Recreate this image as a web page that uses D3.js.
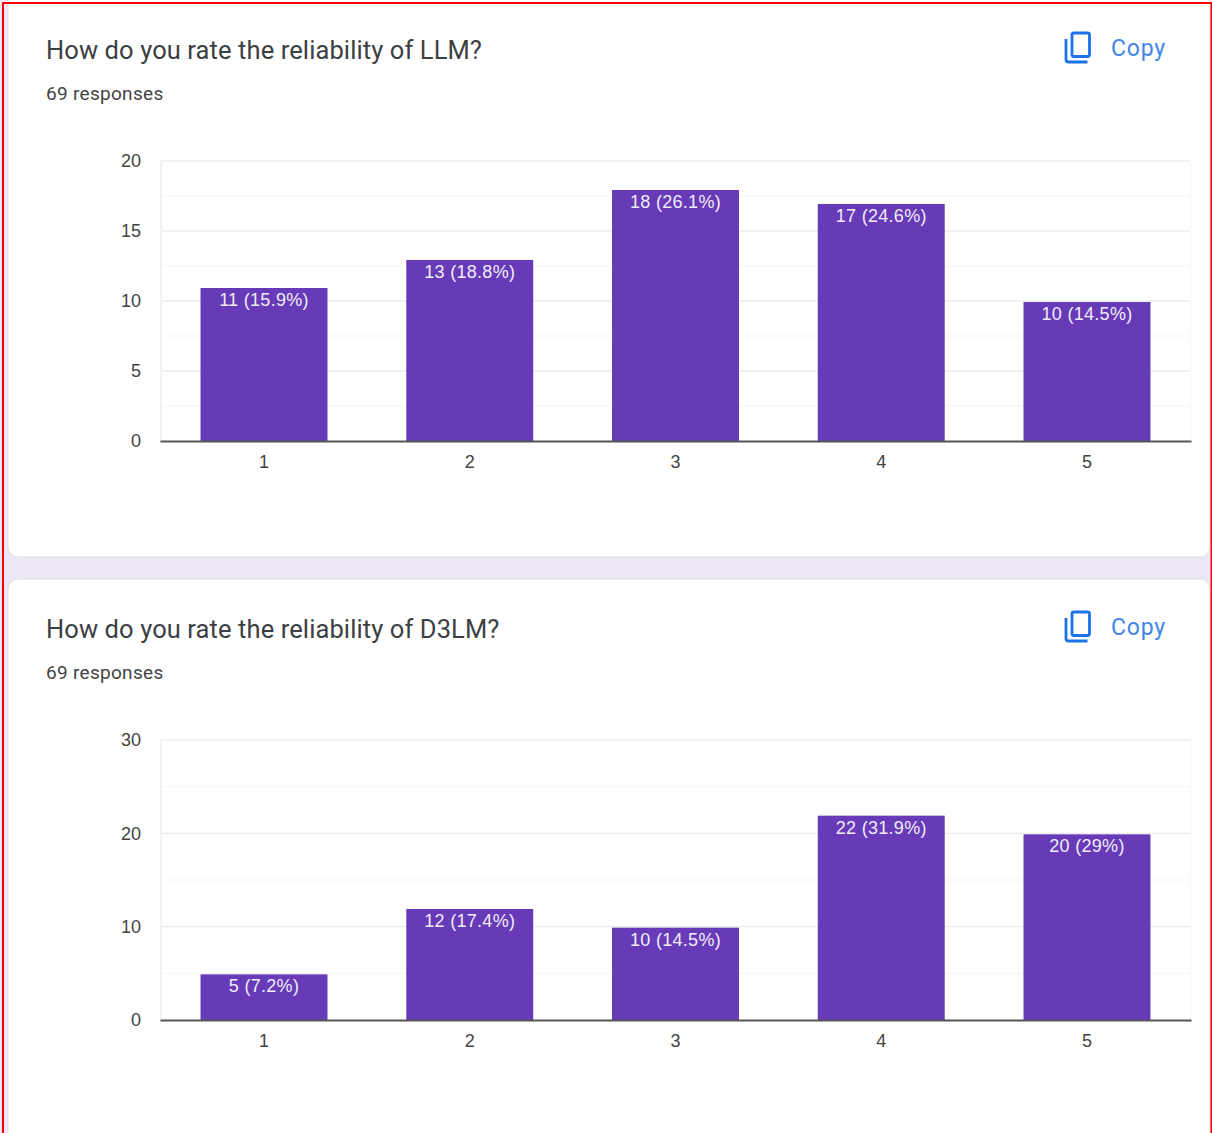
<!DOCTYPE html>
<html>
<head>
<meta charset="utf-8">
<script src="https://cdn.jsdelivr.net/npm/d3@7"></script>
<style>
html, body { margin: 0; padding: 0; background: #ede7f6; overflow: hidden; }
svg { display: block; }
</style>
</head>
<body>
<svg id="chart"></svg>
<script>
const size = {w: 1212, h: 1133};
const plot = {l: 160, r: 1191};
const labelFont = '"Liberation Sans", Arial, sans-serif';

const categories = ['1', '2', '3', '4', '5'];
const llmValues = [11, 13, 18, 17, 10];
const llmPercents = ['15.9%', '18.8%', '26.1%', '24.6%', '14.5%'];
const d3lmValues = [5, 12, 10, 22, 20];
const d3lmPercents = ['7.2%', '17.4%', '14.5%', '31.9%', '29%'];
const llmTicks = [0, 5, 10, 15, 20];
const d3lmTicks = [0, 10, 20, 30];

const svg = d3.select('svg#chart')
    .attr('width', size.w)
    .attr('height', size.h);

// cards
function drawCard(y, h) {
    svg.append('rect')
        .attr('x', 8).attr('y', y)
        .attr('width', 1202).attr('height', h)
        .attr('rx', 10)
        .attr('fill', '#fff')
        .attr('stroke', '#dfdfe3');
}

function drawCopy(g) {
    // copy icon, same shape as the material one
    g.append('path')
        .attr('d', 'M1066 39v20.5q0 2.5 2.5 2.5h19')
        .attr('fill', 'none')
        .attr('stroke', '#1a73e8')
        .attr('stroke-width', 2.8);
    g.append('rect')
        .attr('x', 1072).attr('y', 33)
        .attr('width', 17.5).attr('height', 23.5)
        .attr('rx', 2)
        .attr('fill', 'none')
        .attr('stroke', '#1a73e8')
        .attr('stroke-width', 2.8);
    g.append('text')
        .attr('x', 1111).attr('y', 56)
        .attr('font-family', 'Roboto, sans-serif')
        .attr('font-size', 23)
        .attr('letter-spacing', 0.8)
        .attr('fill', '#4285e8')
        .text('Copy');
}

function drawPanel(top, title, values, percents, ticks) {
    const g = svg.append('g')
        .attr('transform', `translate(0, ${top})`);

    g.append('text')
        .attr('x', 46).attr('y', 59)
        .attr('font-family', 'Roboto, sans-serif')
        .attr('font-size', 25.5)
        .attr('letter-spacing', 0.1)
        .attr('fill', '#3c4043')
        .text(title);
    g.append('text')
        .attr('x', 46).attr('y', 100)
        .attr('font-family', 'Roboto, sans-serif')
        .attr('font-size', 19)
        .attr('letter-spacing', 0.3)
        .attr('fill', '#444')
        .text('69 responses');
    drawCopy(g);

    const x = d3.scaleBand()
        .domain(categories)
        .range([plot.l, plot.r])
        .paddingInner(0.383)
        .paddingOuter(0.197);
    const y = d3.scaleLinear()
        .domain([0, d3.max(ticks)])
        .range([441, 161]);

    // minor gridlines halfway between the major ones
    const minor = d3.pairs(ticks, (a, b) => (a + b) / 2);
    g.append('g')
        .selectAll('line')
        .data(minor)
        .join('line')
        .attr('x1', plot.l).attr('x2', plot.r)
        .attr('y1', d => y(d)).attr('y2', d => y(d))
        .attr('stroke', '#f5f5f5');

    const yAxis = g.append('g')
        .attr('transform', `translate(${plot.l}, 0)`)
        .call(d3.axisLeft(y).tickValues(ticks).tickSize(0).tickPadding(19)
            .tickFormat(d3.format('d')));
    yAxis.select('.domain').remove();
    yAxis.selectAll('text')
        .attr('font-family', labelFont)
        .attr('font-size', 18)
        .attr('fill', '#444');

    g.append('g')
        .selectAll('line')
        .data(ticks.filter(d => d > 0))
        .join('line')
        .attr('x1', plot.l).attr('x2', plot.r)
        .attr('y1', d => y(d)).attr('y2', d => y(d))
        .attr('stroke', '#ececec')
        .attr('stroke-width', 1.4);
    g.append('line')
        .attr('x1', plot.l + 1).attr('x2', plot.l + 1)
        .attr('y1', 160).attr('y2', 441)
        .attr('stroke', '#f3f3f3')
        .attr('stroke-width', 2);
    g.append('line')
        .attr('x1', plot.r - 0.5).attr('x2', plot.r - 0.5)
        .attr('y1', 160).attr('y2', 441)
        .attr('stroke', '#f5f5f5');

    // bars sit a pixel below their gridline in the reference
    g.append('g')
        .selectAll('rect')
        .data(values)
        .join('rect')
        .attr('x', (d, i) => x(categories[i]))
        .attr('y', d => y(d) + 1)
        .attr('width', x.bandwidth())
        .attr('height', d => y(0) - y(d) - 1)
        .attr('fill', '#673ab7');

    g.append('g')
        .selectAll('text')
        .data(values)
        .join('text')
        .attr('x', (d, i) => x(categories[i]) + x.bandwidth() / 2)
        .attr('y', d => y(d) + 19)
        .attr('text-anchor', 'middle')
        .attr('font-family', labelFont)
        .attr('font-size', 18)
        .attr('letter-spacing', 0.3)
        .attr('fill', '#f1edf9')
        .text((d, i) => `${d} (${percents[i]})`);

    const xAxis = g.append('g')
        .attr('transform', 'translate(0, 441)')
        .call(d3.axisBottom(x).tickSize(0).tickPadding(14));
    xAxis.select('.domain')
        .attr('stroke', '#555')
        .attr('stroke-width', 2);
    xAxis.selectAll('text')
        .attr('font-family', labelFont)
        .attr('font-size', 18)
        .attr('fill', '#444');
}

drawCard(-20, 577);
drawCard(579, 600);
drawPanel(0, 'How do you rate the reliability of LLM?', llmValues, llmPercents, llmTicks);
drawPanel(579, 'How do you rate the reliability of D3LM?', d3lmValues, d3lmPercents, d3lmTicks);

// the red frame of the screenshot
svg.append('path')
    .attr('d', `M3 ${size.h}V3H1211.5V${size.h}`)
    .attr('fill', 'none')
    .attr('stroke', '#f00')
    .attr('stroke-width', 2);
</script>
</body>
</html>
